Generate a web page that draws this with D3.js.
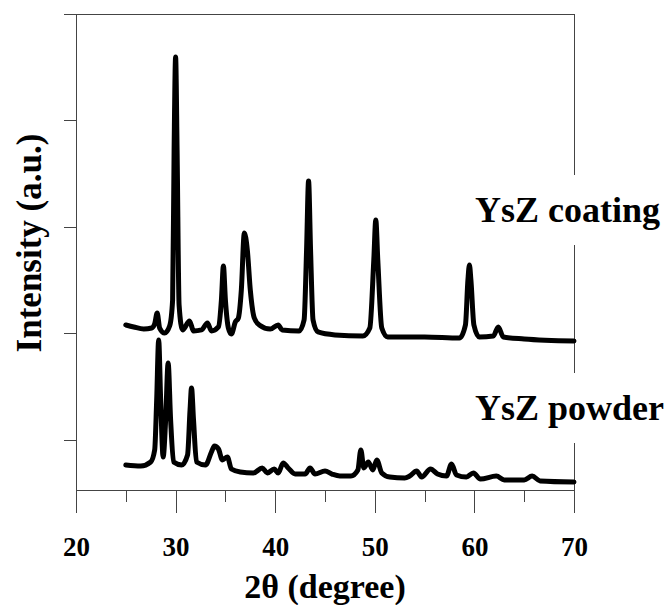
<!DOCTYPE html>
<html>
<head>
    <meta charset="UTF-8">
    <title>XRD of YsZ coating and powder</title>
    <script src="https://d3js.org/d3.v7.min.js"></script>
    <style>
        body { margin: 0; background: #fff; }
        svg text { font-family: "Liberation Serif", "Times New Roman", serif; font-weight: bold; fill: #000; }
        .axis path, .axis line { stroke: #444; stroke-width: 1; fill: none; shape-rendering: crispEdges; }
        .trace { fill: none; stroke: #000; stroke-width: 5; stroke-linejoin: round; stroke-linecap: round; }
    </style>
</head>
<body>
<script>
    // 2theta (deg) and intensity (a.u.)
    var coatingAngle = [25.0, 25.8, 26.8, 27.6, 27.9, 28.15, 28.4, 28.9, 29.4, 29.7, 29.85, 30.0, 30.15, 30.35, 30.7,
        31.4, 31.8, 32.6, 33.2, 33.6, 34.3, 34.6, 34.8, 35.0, 35.3, 35.6, 36.0, 36.3, 36.6, 36.9, 37.2, 37.5, 37.9,
        38.4, 39.5, 40.3, 40.7, 42.4, 42.9, 43.15, 43.35, 43.55, 43.8, 44.3, 46.0, 48.8, 49.5, 49.9, 50.1, 50.3,
        50.7, 51.3, 55.0, 58.5, 59.1, 59.35, 59.5, 59.65, 59.95, 60.5, 61.9, 62.4, 62.9, 65.0, 70.0];
    var coatingCounts = [1080, 1061, 1042, 1051, 1089, 1192, 1051, 1004, 1070, 1314, 2723, 3596, 2723, 1267, 1033,
        1117, 1023, 1033, 1098, 1023, 1061, 1314, 1634, 1314, 1051, 995, 1108, 1145, 1408, 1943, 1784, 1408, 1145,
        1080, 1042, 1080, 1033, 1023, 1126, 1784, 2432, 1784, 1126, 1014, 986, 976, 1051, 1690, 2066, 1690,
        1051, 967, 967, 957, 1080, 1502, 1643, 1502, 1080, 967, 976, 1061, 967, 948, 929];

    var powderAngle = [25.0, 26.5, 27.5, 27.9, 28.1, 28.3, 28.5, 28.75, 29.0, 29.25, 29.5, 29.8, 30.6, 31.2, 31.45,
        31.6, 31.8, 32.1, 33.0, 33.6, 33.9, 34.3, 34.7, 35.2, 35.6, 36.5, 37.8, 38.7, 39.2, 39.9, 40.3, 40.8, 41.3,
        42.0, 43.0, 43.5, 44.0, 45.0, 45.7, 46.5, 47.6, 48.3, 48.6, 48.9, 49.35, 49.8, 50.2, 50.7, 51.5, 53.0, 53.5,
        54.2, 54.7, 55.6, 56.3, 57.2, 57.7, 58.2, 59.2, 59.9, 60.6, 62.2, 63.0, 65.0, 65.8, 66.6, 70.0];
    var powderCounts = [-235, -245, -207, -94, 375, 939, 375, -160, 187, 723, 187, -207, -235, -141, 281,
        488, 187, -207, -235, -113, -57, -85, -188, -160, -273, -301, -310, -263, -310, -273, -310, -216, -263,
        -320, -320, -263, -320, -292, -320, -339, -339, -282, -94, -263, -207, -282, -188, -310, -348, -357, -339,
        -292, -348, -273, -320, -339, -226, -329, -348, -310, -367, -339, -376, -376, -339, -385, -395];

    var seriesNames = ["YsZ coating", "YsZ powder"];
    var xTicksMajor = [20, 30, 40, 50, 60, 70];
    var xTicksMinor = [25, 35, 45, 55, 65];
    var yTicks = [0, 1000, 2000, 3000, 4000];

    var width = 666, height = 605;
    var plotLeft = 76, plotRight = 574, plotTop = 14, plotBottom = 490;

    var svg = d3.select("body").append("svg")
        .attr("width", width)
        .attr("height", height);

    var x = d3.scaleLinear().domain([20, 70]).range([plotLeft, plotRight]);
    var y = d3.scaleLinear().domain([-470, 4000]).range([plotBottom, plotTop]);

    // frame: top and right spines
    svg.append("line")
        .attr("x1", plotLeft).attr("x2", plotRight).attr("y1", plotTop).attr("y2", plotTop)
        .attr("stroke", "#444").attr("shape-rendering", "crispEdges");
    svg.append("line")
        .attr("x1", plotRight).attr("x2", plotRight).attr("y1", plotTop).attr("y2", plotBottom)
        .attr("stroke", "#444").attr("shape-rendering", "crispEdges");

    // y axis, no labels
    svg.append("g")
        .attr("class", "axis y-axis")
        .attr("transform", "translate(" + plotLeft + ",0)")
        .call(d3.axisLeft(y).tickValues(yTicks).tickSize(12).tickSizeOuter(0).tickFormat(""));

    // x axis, minor ticks then major ticks with labels
    svg.append("g")
        .attr("class", "axis")
        .attr("transform", "translate(0," + plotBottom + ")")
        .call(d3.axisBottom(x).tickValues(xTicksMinor).tickSize(12).tickSizeOuter(0).tickFormat(""));

    var xAxis = svg.append("g")
        .attr("class", "axis x-axis")
        .attr("transform", "translate(0," + plotBottom + ")")
        .call(d3.axisBottom(x).tickValues(xTicksMajor).tickSize(23).tickSizeOuter(0).tickPadding(24));
    xAxis.selectAll("text").style("font-size", "27px");

    var line = d3.line()
        .x(function (d) { return x(d[0]); })
        .y(function (d) { return y(d[1]); })
        .curve(d3.curveMonotoneX);

    svg.append("path").attr("class", "trace")
        .attr("d", line(d3.zip(coatingAngle, coatingCounts)));
    svg.append("path").attr("class", "trace")
        .attr("d", line(d3.zip(powderAngle, powderCounts)));

    // series labels sit on white boxes that cut the right spine
    var labelY = [222, 420];
    seriesNames.forEach(function (name, i) {
        svg.append("rect")
            .attr("x", 466).attr("y", labelY[i] - 47)
            .attr("width", 200).attr("height", 70)
            .attr("fill", "#fff");
        svg.append("text")
            .attr("x", 475).attr("y", labelY[i])
            .style("font-size", "36px")
            .text(name);
    });

    svg.append("text")
        .attr("x", (plotLeft + plotRight) / 2).attr("y", 598)
        .attr("text-anchor", "middle")
        .style("font-size", "34px")
        .text("2θ (degree)");

    svg.append("text")
        .attr("transform", "translate(41,243) rotate(-90)")
        .attr("text-anchor", "middle")
        .style("font-size", "35px")
        .text("Intensity (a.u.)");
</script>
</body>
</html>
